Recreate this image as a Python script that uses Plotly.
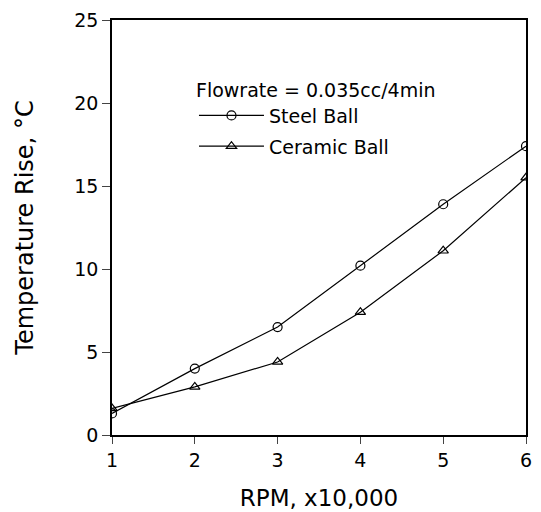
import plotly.graph_objects as go

rpm = [1, 2, 3, 4, 5, 6]
steel = [1.3, 4.0, 6.5, 10.2, 13.9, 17.4]
ceramic = [1.6, 2.9, 4.4, 7.4, 11.1, 15.5]
x_ticks = [1, 2, 3, 4, 5, 6]
y_ticks = [0, 5, 10, 15, 20, 25]

FONT = "DejaVu Sans"

fig = go.Figure()
fig.add_trace(go.Scatter(
    x=rpm, y=steel, mode="lines+markers", name="Steel Ball", legendgroup="a",
    line=dict(color="black", width=1.2),
    marker=dict(symbol="circle-open", size=9, color="black", line=dict(width=1.2)),
))
fig.add_trace(go.Scatter(
    x=rpm, y=ceramic, mode="lines+markers", name="Ceramic Ball", legendgroup="b",
    line=dict(color="black", width=1.2),
    marker=dict(symbol="triangle-up-open", size=9, color="black", line=dict(width=1.2)),
))

fig.update_layout(
    width=533, height=504,
    margin=dict(l=104, r=15, t=12, b=77),
    paper_bgcolor="white", plot_bgcolor="white",
    font=dict(family=FONT, color="black", size=19),
    showlegend=True,
    legend=dict(
        x=0.198, y=0.875, xanchor="left", yanchor="top",
        bgcolor="rgba(0,0,0,0)",
        title=dict(text="Flowrate = 0.035cc/4min", font=dict(size=19)),
        font=dict(size=19),
        itemwidth=65,
        tracegroupgap=3,
    ),
    xaxis=dict(
        range=[1, 6], tickvals=x_ticks, ticks="outside", ticklen=7,
        showline=True, linecolor="black", linewidth=1.5, mirror=True,
        showgrid=False, zeroline=False, automargin=False,
        title=dict(text="RPM, x10,000", font=dict(size=23), standoff=20),
        tickfont=dict(size=19),
    ),
    yaxis=dict(
        range=[0, 25], tickvals=y_ticks, ticks="outside", ticklen=8,
        showline=True, linecolor="black", linewidth=1.5, mirror=True,
        showgrid=False, zeroline=False, automargin=False,
        title=dict(text="Temperature Rise, °C", font=dict(size=24), standoff=34),
        tickfont=dict(size=19),
    ),
)

fig.write_html("out.html")
